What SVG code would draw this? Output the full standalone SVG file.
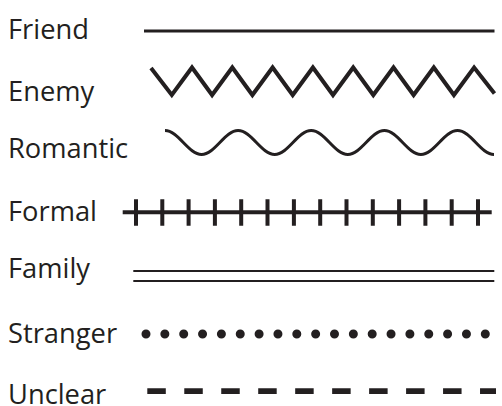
<svg xmlns="http://www.w3.org/2000/svg" width="502" height="406" viewBox="0 0 502 406">
<style>
text{font-family:"Open Sans","Noto Sans",sans-serif;font-size:27.3px;fill:#231f20}
.ln{fill:none;stroke:#231f20}
.tk{stroke:#231f20;stroke-width:4}
</style>
<rect width="502" height="406" fill="#fff"/>
<g id="labels">
<text x="8" y="39">Friend</text>
<text x="8" y="100.5">Enemy</text>
<text x="8" y="158.3">Romantic</text>
<text x="8" y="220.7">Formal</text>
<text x="8" y="278.3">Family</text>
<text x="8" y="342.5">Stranger</text>
<text x="8" y="403.5">Unclear</text>
</g>
<g id="connectors">
<g id="friend"><line class="ln" x1="144" y1="31" x2="494.5" y2="31" stroke-width="3"/></g>
<g id="enemy"><path class="ln" stroke-width="4" d="M151,68 L171.8,95 L192,67.5 L212.1,95 L232.3,67.5 L252.4,95 L272.6,67.5 L292.7,95 L312.9,67.5 L333,95 L353.2,67.5 L373.3,95 L393.5,67.5 L413.6,95 L433.8,67.5 L453.9,95 L474.1,67.5 L494.5,93.5"/></g>
<g id="romantic"><path class="ln" stroke-width="3" d="M165,130.5 C178.3,130.5 188.3,154.5 201.6,154.5 S224.8,130.5 238.1,130.5 S261.4,154.5 274.7,154.5 S297.9,130.5 311.2,130.5 S334.5,154.5 347.8,154.5 S371.1,130.5 384.4,130.5 S407.6,154.5 420.9,154.5 S444.2,130.5 457.5,130.5 S480.7,154.5 494,154.5"/></g>
<g id="formal">
<line class="ln" x1="122.7" y1="212.3" x2="491.7" y2="212.3" stroke-width="4"/>
<path class="tk" d="M136,199.3V225.7M162.3,199.3V225.7M188.6,199.3V225.7M214.9,199.3V225.7M241.2,199.3V225.7M267.5,199.3V225.7M293.9,199.3V225.7M320.2,199.3V225.7M346.5,199.3V225.7M372.8,199.3V225.7M399.1,199.3V225.7M425.4,199.3V225.7M451.7,199.3V225.7M478,199.3V225.7"/>
</g>
<g id="family">
<line class="ln" x1="133.3" y1="271" x2="494.3" y2="271" stroke-width="2"/>
<line class="ln" x1="133.3" y1="281" x2="494.3" y2="281" stroke-width="2"/>
</g>
<g id="stranger"><line class="ln" x1="146" y1="334" x2="486" y2="334" stroke-width="9" stroke-linecap="round" stroke-dasharray="0 18.85"/></g>
<g id="unclear"><line class="ln" x1="147.3" y1="391.2" x2="496" y2="391.2" stroke-width="5.7" stroke-dasharray="18.5 18.47"/></g>
</g>
</svg>
